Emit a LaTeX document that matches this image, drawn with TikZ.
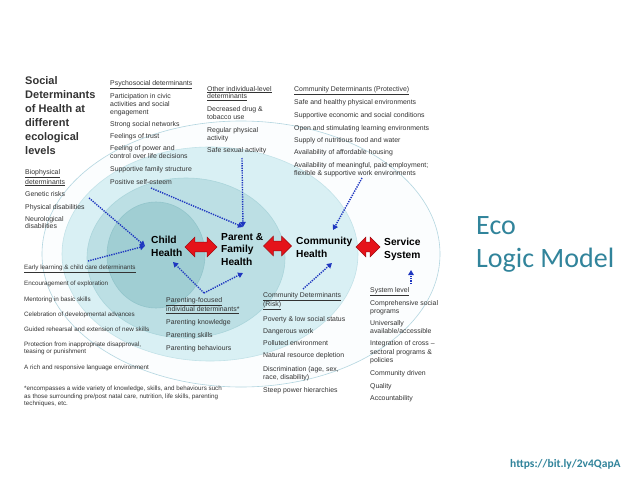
\documentclass[tikz,border=0pt]{standalone}
\usepackage{fontspec}
\setmainfont{Liberation Sans}
\newfontfamily\calib{Carlito}
\usetikzlibrary{shapes.arrows,arrows.meta}
\definecolor{txt}{HTML}{333333}
\definecolor{ringout}{HTML}{FBFDFE}
\definecolor{ringoutl}{HTML}{B3D6E0}
\definecolor{ringcom}{HTML}{D9F0F4}
\definecolor{ringcoml}{HTML}{C2E2E8}
\definecolor{ringpar}{HTML}{BCDFE4}
\definecolor{ringparl}{HTML}{AAD5DB}
\definecolor{ringchi}{HTML}{A0CED3}
\definecolor{ringchil}{HTML}{92C5CB}
\definecolor{eco}{HTML}{31849B}
\definecolor{dotblue}{HTML}{1E36C0}
\definecolor{redar}{HTML}{E5131A}
\definecolor{redard}{HTML}{A00A10}
\begin{document}
\begin{tikzpicture}[x=1pt,y=-1pt,
  small/.style={font=\fontsize{6.9}{7.7}\selectfont, text=txt, inner sep=0pt, align=left, anchor=north west},
  smaller/.style={small, font=\fontsize{6.3}{7.2}\selectfont},
  centre/.style={font=\bfseries\fontsize{10.2}{12.6}\selectfont, text=black, inner sep=0pt, align=left, anchor=north west},
  redarrow/.style={double arrow, fill=redar, draw=redard, line width=0.4pt, inner sep=4.7pt,
     double arrow head extend=5pt, minimum height=#1},
  dotarrow/.style={draw=dotblue, line width=1.4pt, dash pattern=on 1.3pt off 1.1pt,
     -{Triangle[length=5pt,width=5.5pt]}},
  ring/.style={line width=0.6pt}]
\useasboundingbox (0,0) rectangle (638,479);
\fill[white] (0,0) rectangle (638,479);

% nested ellipses
\filldraw[ring, fill=ringout, draw=ringoutl] (241,254) ellipse [x radius=199pt, y radius=133pt];
\filldraw[ring, fill=ringcom, draw=ringcoml] (210,254) ellipse [x radius=148pt, y radius=107pt];
\filldraw[ring, fill=ringpar, draw=ringparl] (186,258) ellipse [x radius=99pt, y radius=80pt];
\filldraw[ring, fill=ringchi, draw=ringchil] (156,255) ellipse [x radius=49pt, y radius=53pt];

% title
\node[font=\bfseries\fontsize{11}{13.9}\selectfont, text=txt, inner sep=0pt, align=left, anchor=north west]
  (title) at (25,76.5) {Social\\Determinants\\of Health at\\different\\ecological\\levels};

% text blocks
\node[small] (bio) at (25,169.5) {\underline{Biophysical}\\\underline{determinants}\\[4.3pt]
  Genetic risks\\[5.3pt]Physical disabilities\\[4.3pt]Neurological\\disabilities};

\node[small] (psy) at (110,80) {\underline{Psychosocial determinants}\\[4.3pt]
  Participation in civic\\activities and social\\engagement\\[4.3pt]
  Strong social networks\\[4.3pt]
  Feelings of trust\\[4.3pt]
  Feeling of power and\\control over life decisions\\[5.3pt]
  Supportive family structure\\[5.3pt]
  Positive self-esteem};

\node[small] (oth) at (207,86) {\underline{Other individual-level}\\\underline{determinants}\\[5.3pt]
  Decreased drug \&\\tobacco use\\[5.3pt]
  Regular physical\\activity\\[4.3pt]
  Safe sexual activity};

\node[small] (comp) at (294,86) {\underline{Community Determinants (Protective)}\\[4.3pt]
  Safe and healthy physical environments\\[5.3pt]
  Supportive economic and social conditions\\[4.8pt]
  Open and stimulating learning environments\\[4.3pt]
  Supply of nutritious food and water\\[4.8pt]
  Availability of affordable housing\\[4.8pt]
  Availability of meaningful, paid employment;\\flexible \& supportive work environments};

\node[smaller] (early) at (24,265) {\underline{Early learning \& child care determinants}\\[7.3pt]
  Encouragement of exploration\\[8.3pt]
  Mentoring in basic skills\\[7.8pt]
  Celebration of developmental advances\\[7.8pt]
  Guided rehearsal and extension of new skills\\[7.8pt]
  Protection from inappropriate disapproval,\\teasing or punishment\\[8.3pt]
  A rich and responsive language environment};

\node[small] (parf) at (166,297) {\underline{Parenting-focused}\\\underline{individual determinants*}\\[5.3pt]
  Parenting knowledge\\[4.8pt]
  Parenting skills\\[5.3pt]
  Parenting behaviours};

\node[small] (comr) at (263,292) {\underline{Community Determinants}\\\underline{(Risk)}\\[5.3pt]
  Poverty \& low social status\\[4.8pt]
  Dangerous work\\[4.3pt]
  Polluted environment\\[4.3pt]
  Natural resource depletion\\[6.3pt]
  Discrimination (age, sex,\\race, disability)\\[5.3pt]
  Steep power hierarchies};

\node[small, font=\fontsize{6.9}{8.3}\selectfont] (sys) at (370,287) {\underline{System level}\\[3.7pt]
  Comprehensive social\\programs\\[3.7pt]
  Universally\\available/accessible\\[3.7pt]
  Integration of cross --\\sectoral programs \&\\policies\\[4.7pt]
  Community driven\\[4.7pt]
  Quality\\[3.7pt]
  Accountability};

\node[small, font=\fontsize{6.25}{7.6}\selectfont] (foot) at (24,386) {*encompasses a wide variety of knowledge, skills, and behaviours such\\
  as those surrounding pre/post natal care, nutrition, life skills, parenting\\techniques, etc.};

% centre labels
\node[centre] (child) at (151,236) {Child\\Health};
\node[centre] (parent) at (221,233) {Parent \&\\Family\\Health};
\node[centre] (commh) at (296,237) {Community\\Health};
\node[centre] (serv) at (384,238) {Service\\System};

% red double arrows
\node[redarrow=32pt] (ra1) at (201,247) {};
\node[redarrow=28pt] (ra2) at (277.5,246) {};
\node[redarrow=24pt] (ra3) at (368,247) {};

% dotted connectors
\coordinate (bioS) at (89,198);
\coordinate (earlyS) at (88,261);
\coordinate (childE) at (145,246);
\coordinate (psyS) at (151,188);
\coordinate (othS) at (242,158);
\coordinate (parE) at (243,227);
\coordinate (parfS) at (204,293);
\coordinate (childE3) at (173,262);
\coordinate (parE2) at (243,273);
\coordinate (compS) at (362,178);
\coordinate (comE1) at (333,230);
\coordinate (comrS) at (303,289);
\coordinate (comE2) at (332,263);
\coordinate (sysS) at (411,284);
\coordinate (servE) at (411,270);

\draw[dotarrow] (bioS) -- (childE);
\draw[dotarrow] (earlyS) -- (childE);
\draw[dotarrow] (psyS) -- (parE);
\draw[dotarrow] (othS) -- (parE);
\draw[dotarrow] (parfS) -- (childE3);
\draw[dotarrow] (parfS) -- (parE2);
\draw[dotarrow] (compS) -- (comE1);
\draw[dotarrow] (comrS) -- (comE2);
\draw[dotarrow] (sysS) -- (servE);

% right side
\node[font=\calib\fontsize{28}{33}\selectfont, text=eco, inner sep=0pt, align=left, anchor=north west]
  (eco) at (476,216) {Eco\\Logic Model};
\node[font=\calib\bfseries\fontsize{11.5}{13}\selectfont, text=eco, inner sep=0pt, anchor=base west]
  (link) at (510,467) {https://bit.ly/2v4QapA};
\end{tikzpicture}
\end{document}
